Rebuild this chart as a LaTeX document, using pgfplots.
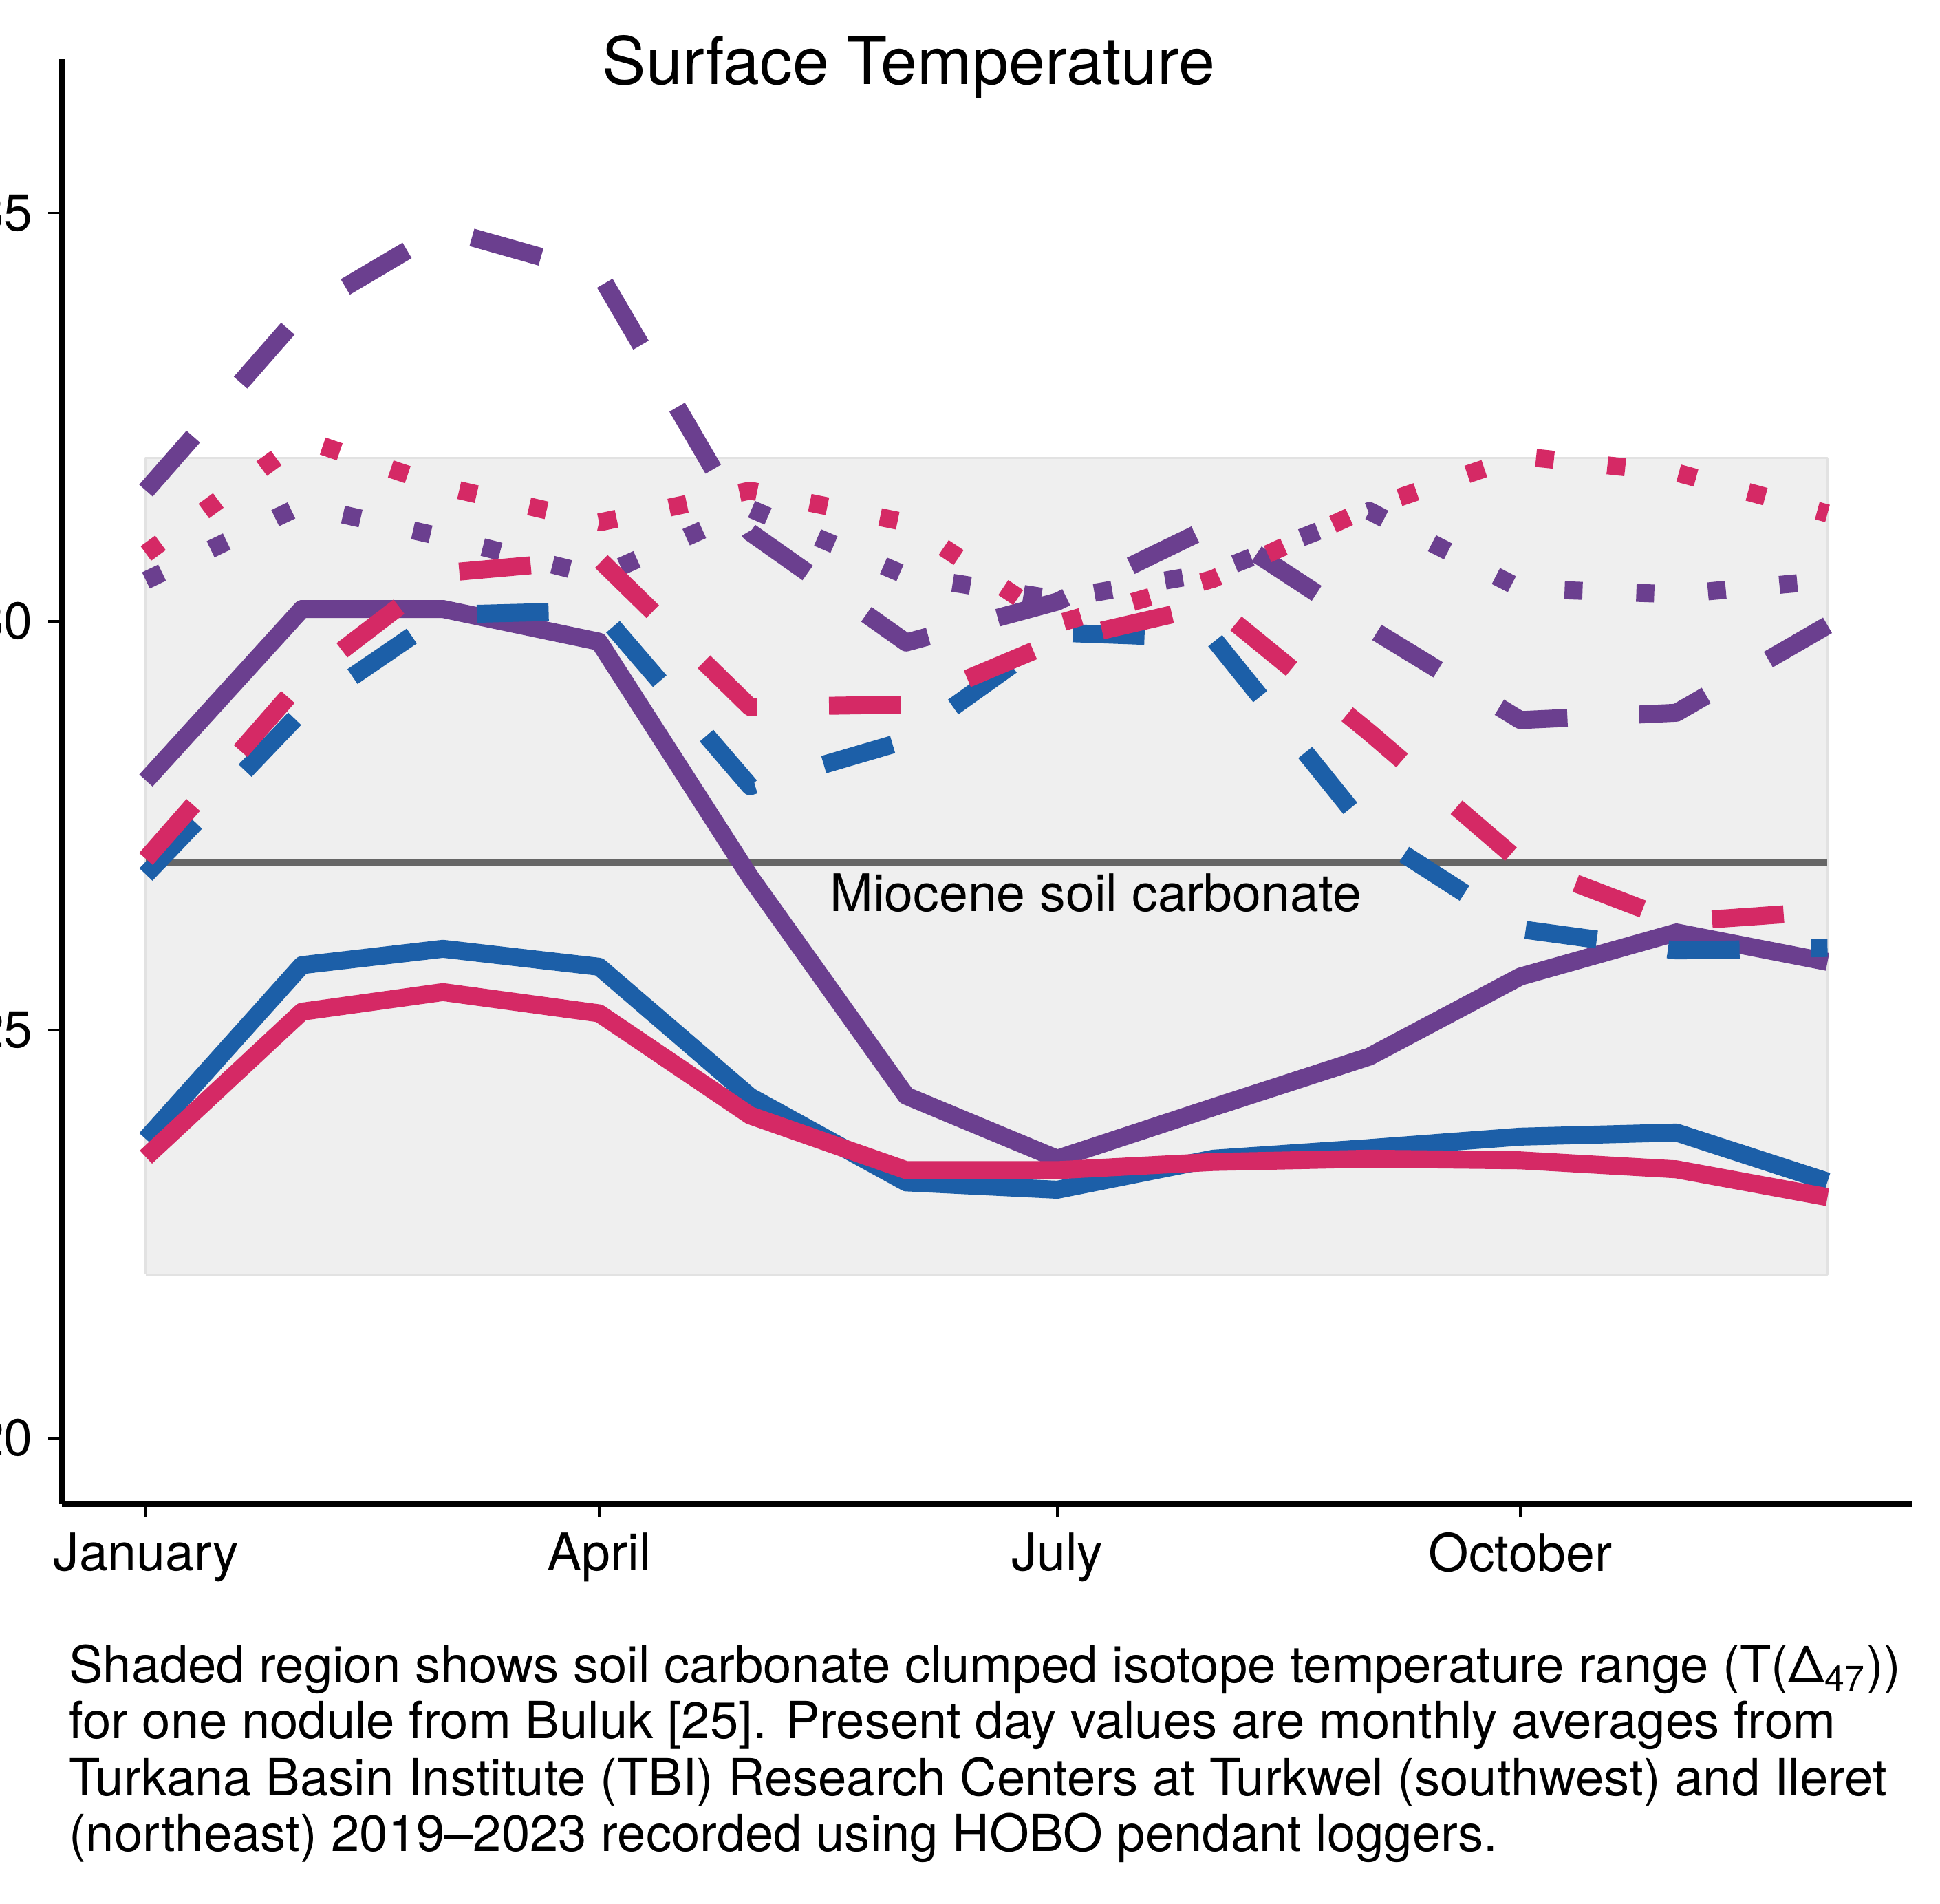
\documentclass[border=0pt]{standalone}
\usepackage{pgfplots}
\pgfplotsset{compat=1.18}
\usepackage{pgfplotstable}
\usepackage{fontspec}
\setmainfont{TeX Gyre Heros}
\definecolor{cpur}{RGB}{107,63,143}
\definecolor{cblu}{RGB}{28,95,168}
\definecolor{cpnk}{RGB}{213,41,101}
\definecolor{shade}{RGB}{239,239,239}
\definecolor{shadeedge}{RGB}{226,226,226}
\definecolor{hline}{RGB}{102,102,102}

% x = day of year of the first of each month (Jan 1 = 0)
\pgfplotstableread{
x   ps    bs    rs    pd    bd    rd    pt    rt
0   28.05 23.66 23.44 31.60 26.90 27.09 30.50 30.83
31  30.15 25.79 25.22 33.78 28.90 29.27 31.42 32.23
59  30.15 25.99 25.46 34.80 30.08 30.59 31.03 31.65
90  29.75 25.77 25.20 34.26 30.13 30.76 30.55 31.21
120 26.87 24.18 23.95 31.09 27.98 28.95 31.38 31.60
151 24.19 23.13 23.28 29.74 28.54 28.98 30.56 31.21
181 23.42 23.04 23.28 30.24 29.86 29.76 30.27 29.97
212 24.05 23.42 23.38 31.17 29.79 30.20 30.60 30.52
243 24.67 23.55 23.42 29.92 27.42 28.64 31.35 31.39
273 25.65 23.69 23.40 28.79 26.23 27.05 30.40 32.02
304 26.19 23.74 23.29 28.88 25.97 26.32 30.33 31.82
334 25.83 23.14 22.95 29.95 26.00 26.45 30.50 31.32
}\data

\begin{document}
\begin{tikzpicture}
\begin{axis}[
  at={(0.50cm,3.23cm)}, anchor=south west,
  scale only axis, width=14.95cm, height=11.67cm,
  xmin=-16.7, xmax=350.7, ymin=19.197, ymax=36.879,
  axis x line*=bottom, axis y line*=left,
  x axis line style={line width=0.05cm, -},
  y axis line style={line width=0.04cm, -},
  xtick={0,90,181,273}, xticklabels={January,April,July,October},
  ytick={20,25,30,35},
  tick align=outside, major tick length=0.11cm,
  tick style={line width=0.02cm, black},
  ticklabel style={font=\fontsize{11.9}{14}\selectfont},
  /pgf/number format/assume math mode=true,
  no marks,
  every axis plot/.append style={line width=0.145cm, line join=round, line cap=butt},
]
\addplot[fill=shade, draw=shadeedge, line width=0.02cm] coordinates {(0,22) (334,22) (334,32) (0,32) (0,22)};
\addplot[hline, line width=0.055cm] coordinates {(0,27.05) (334,27.05)};

% purple
\addplot[cpur] table[x=x, y=ps] {\data};
\addplot[cpur, dash pattern=on 0.58cm off 0.58cm] table[x=x, y=pd] {\data};
\addplot[cpur, dash pattern=on 0.145cm off 0.435cm] table[x=x, y=pt] {\data};
% blue
\addplot[cblu] table[x=x, y=bs] {\data};
\addplot[cblu, dash pattern=on 0.58cm off 0.58cm] table[x=x, y=bd] {\data};
% pink
\addplot[cpnk] table[x=x, y=rs] {\data};
\addplot[cpnk, dash pattern=on 0.58cm off 0.58cm] table[x=x, y=rd] {\data};
\addplot[cpnk, dash pattern=on 0.145cm off 0.435cm] table[x=x, y=rt] {\data};

\node[anchor=base west, font=\fontsize{11.9}{14}\selectfont, inner sep=0pt] at (axis cs:135.7,26.45) {Miocene soil carbonate};
\end{axis}

\node[anchor=base, font=\fontsize{15.05}{18}\selectfont, inner sep=0pt] at (7.345,14.70) {Surface Temperature};

\begin{scope}[every node/.style={anchor=base west, inner sep=0pt, font=\fontsize{11.75}{13}\selectfont}]
\node at (0.55,1.78) {Shaded region shows soil carbonate clumped isotope temperature range (T(Δ\textsubscript{47}))};
\node at (0.55,1.33) {for one nodule from Buluk [25]. Present day values are monthly averages from};
\node at (0.55,0.87) {Turkana Basin Institute (TBI) Research Centers at Turkwel (southwest) and Ileret};
\node at (0.55,0.42) {(northeast) 2019–2023 recorded using HOBO pendant loggers.};
\end{scope}

\pgfresetboundingbox
\useasboundingbox (0,0) rectangle (15.68,15.38);
\end{tikzpicture}
\end{document}
